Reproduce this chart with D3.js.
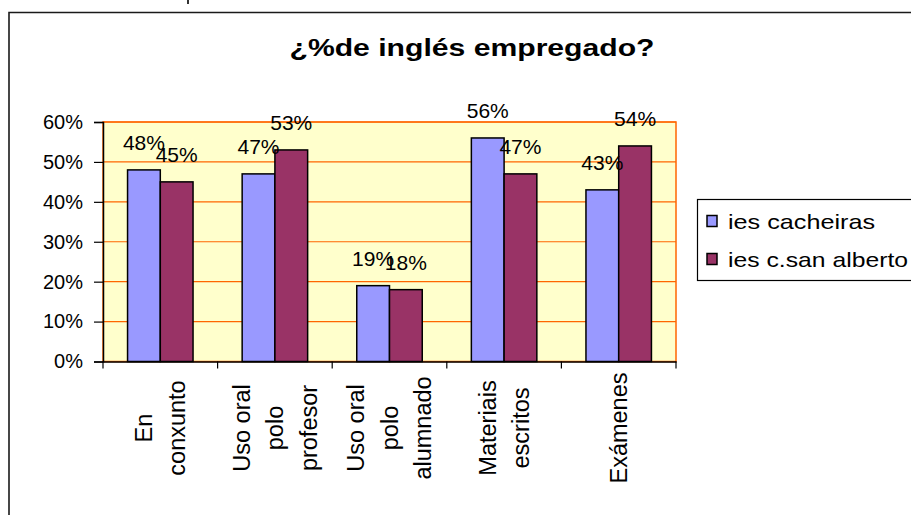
<!DOCTYPE html>
<html>
<head>
<meta charset="utf-8">
<script src="https://cdn.jsdelivr.net/npm/d3@7"></script>
<style>
  html, body { margin: 0; padding: 0; background: #fff; }
  svg { display: block; font-family: Arial, "Liberation Sans", sans-serif; }
</style>
</head>
<body>
<svg id="chart" width="911" height="515"></svg>
<script>
const title = "¿%de inglés empregado?";
const categories = ["En conxunto", "Uso oral polo profesor", "Uso oral polo alumnado", "Materiais escritos", "Exámenes"];
const categoryLines = [["En", "conxunto"], ["Uso oral", "polo", "profesor"], ["Uso oral", "polo", "alumnado"], ["Materiais", "escritos"], ["Exámenes"]];
const seriesNames = ["ies cacheiras", "ies c.san alberto"];
const cacheiras = [0.48, 0.47, 0.19, 0.56, 0.43];
const sanAlberto = [0.45, 0.53, 0.18, 0.47, 0.54];
const yTicks = [0, 0.1, 0.2, 0.3, 0.4, 0.5, 0.6];
const colors = ["#9999FF", "#993366"];

const seriesValues = [cacheiras, sanAlberto];
const svg = d3.select("#chart");

// outer chart frame
svg.append("path").attr("d", "M9,520 V12.5 H920").attr("fill", "none").attr("stroke", "#1a1a1a").attr("stroke-width", 1.6);
svg.append("line").attr("x1", 188).attr("x2", 188).attr("y1", 0).attr("y2", 4).attr("stroke", "#000").attr("stroke-width", 1.6);

const pLeft = 103, pRight = 676, pTop = 122, pBottom = 361.5;
const x = d3.scaleBand().domain(categories).range([pLeft, pRight]).padding(0);
const bw = x.bandwidth();
const gap = bw * 0.75 / 3.5;
const x1 = d3.scaleBand().domain(seriesNames).range([gap, bw - gap]).padding(0);
const y = d3.scaleLinear().domain([0, 0.6]).range([pBottom, pTop]);

// plot area
svg.append("rect").attr("x", pLeft).attr("y", pTop).attr("width", pRight - pLeft).attr("height", pBottom - pTop)
  .attr("fill", "#FFFFCC").attr("stroke", "#FF6600").attr("stroke-width", 1.5);

// gridlines
svg.append("g").selectAll("line").data(yTicks.slice(1)).join("line")
  .attr("x1", pLeft).attr("x2", pRight).attr("y1", d => y(d)).attr("y2", d => y(d))
  .attr("stroke", "#FF6600").attr("stroke-width", 1.2);

// bars
const groups = svg.append("g").selectAll("g").data(categories).join("g")
  .attr("transform", d => `translate(${x(d)},0)`);
groups.selectAll("rect").data((d, i) => seriesNames.map((s, j) => ({ s, j, v: seriesValues[j][i] }))).join("rect")
  .attr("x", d => x1(d.s)).attr("width", x1.bandwidth())
  .attr("y", d => y(d.v)).attr("height", d => y(0) - y(d.v))
  .attr("fill", d => colors[d.j]).attr("stroke", "#000").attr("stroke-width", 1.5);

// y axis
const yAxis = svg.append("g").attr("transform", `translate(${pLeft},0)`)
  .call(d3.axisLeft(y).tickValues(yTicks).tickFormat(d3.format(".0%")).tickSize(9).tickPadding(11));
yAxis.select(".domain").attr("stroke", "#000").attr("stroke-width", 1.5);
yAxis.selectAll(".tick line").attr("stroke", "#000").attr("stroke-width", 1.2);
yAxis.selectAll(".tick text").attr("font-size", 20).attr("fill", "#000").attr("font-family", "Arial, 'Liberation Sans', sans-serif");

// x axis
const xAxis = svg.append("g").attr("transform", `translate(0,${pBottom})`)
  .call(d3.axisBottom(x).tickSize(0).tickFormat(""));
xAxis.select(".domain").attr("stroke", "#000").attr("stroke-width", 1.5);
const boundaries = categories.map(c => x(c)).concat([pRight]);
svg.append("g").selectAll("line").data(boundaries).join("line")
  .attr("x1", d => d).attr("x2", d => d).attr("y1", pBottom).attr("y2", pBottom + 7)
  .attr("stroke", "#000").attr("stroke-width", 1.2);

// category labels (rotated, multi-line)
const lineGap = 33.5;
categories.forEach((c, i) => {
  const lines = categoryLines[i];
  const cx = x(c) + bw / 2;
  lines.forEach((ln, k) => {
    const colX = cx + (k - (lines.length - 1) / 2) * lineGap;
    svg.append("text")
      .attr("transform", `translate(${colX},428) rotate(-90)`)
      .attr("text-anchor", "middle").attr("dy", "0.35em")
      .attr("font-size", 23.5).attr("fill", "#000")
      .text(ln);
  });
});

// data labels
groups.selectAll("text.val").data((d, i) => seriesNames.map((s, j) => ({ s, j, v: seriesValues[j][i] }))).join("text")
  .attr("class", "val")
  .attr("x", d => x1(d.s) + x1.bandwidth() / 2).attr("y", d => y(d.v) - 19.5)
  .attr("text-anchor", "middle").attr("font-size", 21).attr("fill", "#000")
  .text(d => d3.format(".0%")(d.v));

// title
svg.append("text").attr("x", 472).attr("y", 56).attr("text-anchor", "middle")
  .attr("font-size", 23).attr("font-weight", "bold").attr("fill", "#000")
  .attr("textLength", 365).attr("lengthAdjust", "spacingAndGlyphs")
  .text(title);

// legend
const legend = svg.append("g");
legend.append("rect").attr("x", 697.5).attr("y", 199.5).attr("width", 230).attr("height", 81)
  .attr("fill", "#fff").attr("stroke", "#000").attr("stroke-width", 1.2);
const legendY = [221, 259];
const legendW = [147, 180];
seriesNames.forEach((s, j) => {
  legend.append("rect").attr("x", 707).attr("y", legendY[j] - 5.5).attr("width", 10).attr("height", 11)
    .attr("fill", colors[j]).attr("stroke", "#000").attr("stroke-width", 1.5);
  legend.append("text").attr("x", 728).attr("y", legendY[j] + 7.5)
    .attr("font-size", 21).attr("fill", "#000")
    .attr("textLength", legendW[j]).attr("lengthAdjust", "spacingAndGlyphs")
    .text(s);
});
</script>
</body>
</html>
